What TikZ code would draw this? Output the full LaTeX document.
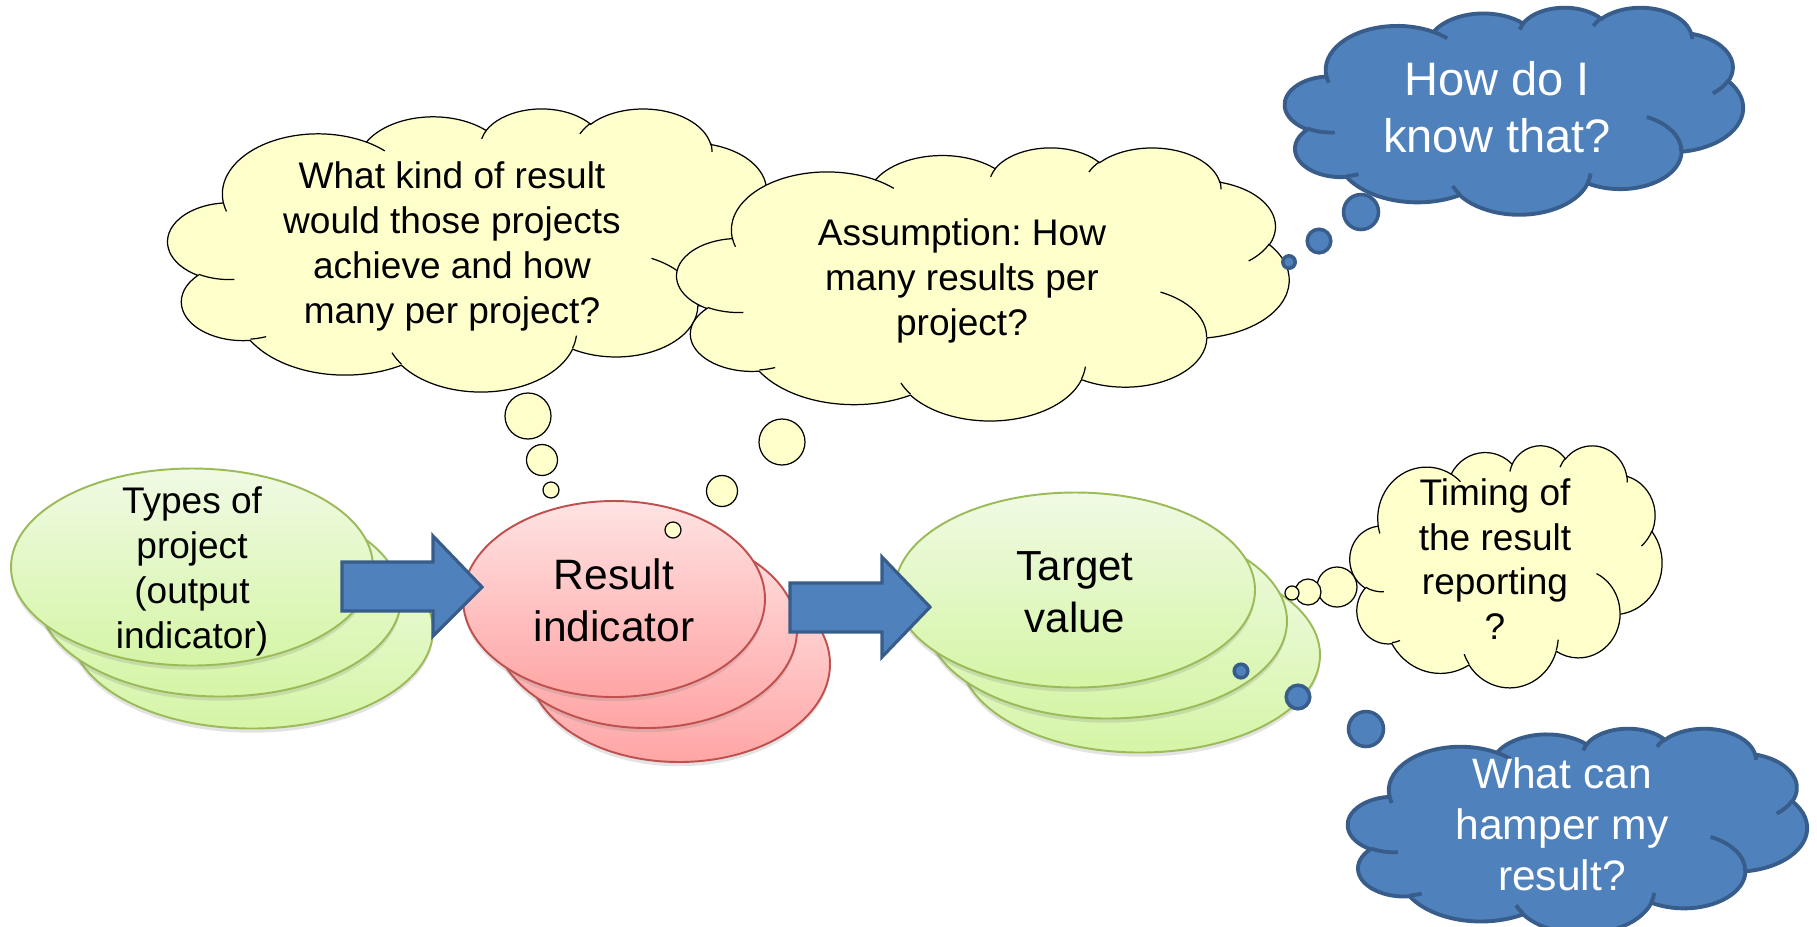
\documentclass[tikz,border=0pt]{standalone}
\usepackage{fontspec}
\setmainfont{Liberation Sans}
\usetikzlibrary{shadows}
\frenchspacing
\definecolor{cloudyellow}{HTML}{FFFFCC}
\definecolor{bluefill}{HTML}{4F81BD}
\definecolor{blueline}{HTML}{385D8A}
\definecolor{greenline}{HTML}{9BBB59}
\definecolor{greentop}{HTML}{F0FAE4}
\definecolor{greenbot}{HTML}{D5F5A6}
\definecolor{redline}{HTML}{C0504D}
\definecolor{redtop}{HTML}{FFE3E3}
\definecolor{redbot}{HTML}{FFA5A5}
\tikzset{
  pparc/.style n args={4}{insert path={arc[start angle={atan2((#1)*sin(#3),(#2)*cos(#3))},
     delta angle={mod(atan2((#1)*sin((#3)+(#4)),(#2)*cos((#3)+(#4)))-atan2((#1)*sin(#3),(#2)*cos(#3))+720,360)},
     x radius=#1, y radius=#2]}},
  yellowcloud/.style={fill=cloudyellow, draw=black, line width=0.35pt},
  yellowinner/.style={draw=black, line width=0.35pt},
  bluecloud/.style={fill=bluefill, draw=blueline, line width=1.1pt},
  blueinner/.style={draw=blueline, line width=1.1pt},
  ybub/.style={fill=cloudyellow, draw=black, line width=0.35pt},
  bbub/.style={fill=bluefill, draw=blueline, line width=1pt},
  softshadow/.style={drop shadow={shadow xshift=0pt, shadow yshift=-1.2pt, opacity=0.22}},
  greenell/.style={top color=greentop, bottom color=greenbot, draw=greenline, line width=0.55pt, softshadow},
  redell/.style={top color=redtop, bottom color=redbot, draw=redline, line width=0.55pt, softshadow},
  blockarrow/.style={fill=bluefill, draw=blueline, line width=0.9pt},
  txt/.style={inner sep=0pt, align=center, text=black},
  wtxt/.style={inner sep=0pt, align=center, text=white},
}
% PowerPoint-like cloud: #1,#2 top-left corner, #3 width, #4 height (px), #5 outline style, #6 inner-arc style
\newcommand\pptcloud[6]{%
  \begin{scope}[shift={(#1,#2)}, x={(#3*0.01cm,0cm)}, y={(0cm,-#4*0.01cm)}]
    \path[#5] (0.090278,0.332639)
      [pparc={0.156319}{0.212731}{-190.48748}{123.78053}]
      [pparc={0.123449}{0.168218}{-144.10238}{89.94523}]
      [pparc={0.101042}{0.137616}{-145.80792}{99.72302}]
      [pparc={0.112431}{0.152662}{-130.98607}{117.24173}]
      [pparc={0.123449}{0.168356}{-78.70888}{109.02692}]
      [pparc={0.156829}{0.213426}{-46.26725}{130.269}]
      [pparc={0.133912}{0.182106}{0.62502}{114.03333}]
      [pparc={0.156296}{0.213310}{22.4516}{115.17255}]
      [pparc={0.178704}{0.244051}{66.24263}{75.71102}]
      [pparc={0.100926}{0.136991}{-274.94208}{146.73557}]
      [pparc={0.100579}{0.137616}{-246.8285}{152.51885}]
      -- cycle;
    \path[#6]
      (0.108634,0.605949) [pparc={0.100579}{0.137616}{86.742}{26.4295}]
      (0.160370,0.807847) [pparc={0.100926}{0.136991}{73.6105}{11.4475}]
      (0.381435,0.904861) [pparc={0.156296}{0.213310}{137.6242}{14.0811}]
      (0.667292,0.804421) [pparc={0.156296}{0.213310}{6.4533}{15.9984}]
      (0.790023,0.531343) [pparc={0.133912}{0.182106}{-70.2924}{70.9174}]
      (0.967546,0.355417) [pparc={0.123449}{0.168356}{30.318}{27.7515}]
      (0.887130,0.125602) [pparc={0.112431}{0.152662}{-13.7443}{14.8589}]
      (0.673102,0.091481) [pparc={0.112431}{0.152662}{-149.1815}{18.1954}]
      (0.512523,0.109259) [pparc={0.101042}{0.137616}{-163.4943}{17.6864}]
      (0.324074,0.120185) [pparc={0.156319}{0.212731}{-66.7070}{12.3194}]
      (0.095532,0.365486) [pparc={0.156319}{0.212731}{-202.35}{11.86}];
  \end{scope}}
\begin{document}
\begin{tikzpicture}[x=0.01cm, y=-0.01cm]
\useasboundingbox (0,0) rectangle (1817,926);

% upper yellow clouds
\pptcloud{168}{108}{612}{283}{yellowcloud}{yellowinner}
\pptcloud{677}{147}{612}{273}{yellowcloud}{yellowinner}

% stacked ellipses: types of project
\path[greenell] (252,630) ellipse[x radius=181, y radius=98.5];
\path[greenell] (220,598) ellipse[x radius=181, y radius=98.5];
\path[greenell] (192,567) ellipse[x radius=181, y radius=98.5];
% result indicator
\path[redell] (679,664) ellipse[x radius=151, y radius=98];
\path[redell] (646,630) ellipse[x radius=151, y radius=98];
\path[redell] (614,599) ellipse[x radius=151, y radius=98];
% target value
\path[greenell] (1140,655) ellipse[x radius=180, y radius=97.5];
\path[greenell] (1107,621) ellipse[x radius=180, y radius=97.5];
\path[greenell] (1075,590) ellipse[x radius=180, y radius=97.5];

% block arrows
\path[blockarrow] (342,562) -- (433,562) -- (433,536) -- (482,587) -- (433,636) -- (433,611) -- (342,611) -- cycle;
\path[blockarrow] (790,583) -- (882,583) -- (882,557) -- (930,607) -- (882,657) -- (882,632) -- (790,632) -- cycle;

% yellow thought bubbles
\path[ybub] (528,416) circle[radius=23];
\path[ybub] (542,460) circle[radius=15.5];
\path[ybub] (551,490) circle[radius=8];
\path[ybub] (782,442) circle[radius=23];
\path[ybub] (722,491) circle[radius=15.5];
\path[ybub] (673,530) circle[radius=8];

% timing cloud
\pptcloud{1350}{445}{312}{242}{yellowcloud}{yellowinner}
\path[ybub] (1337,587) circle[radius=20];
\path[ybub] (1308,592) circle[radius=13];
\path[ybub] (1292,593) circle[radius=7];

% blue clouds
\pptcloud{1285}{7}{458}{207}{bluecloud}{blueinner}
\path[bbub] (1361,212) circle[radius=17.5];
\path[bbub] (1319,241) circle[radius=11.8];
\path[bbub] (1289,262) circle[radius=6.2];

\pptcloud{1348}{728}{459}{205}{bluecloud}{blueinner}
\path[bbub] (1241,671) circle[radius=6.8];
\path[bbub] (1298,697) circle[radius=11.8];
\path[bbub] (1366,729) circle[radius=17.5];

% texts
\node[txt, font=\fontsize{10.53}{12.8}\selectfont] (tp) at (192,571) {Types of\\project\\(output\\indicator)};
\node[txt, font=\fontsize{12.09}{14.8}\selectfont] (ri) at (614,600) {Result\\indicator};
\node[txt, font=\fontsize{11.95}{14.8}\selectfont] (tv) at (1075,592) {Target\\value};
\node[txt, font=\fontsize{10.53}{12.8}\selectfont] (qa) at (452,246) {What kind of result\\would those projects\\achieve and how\\many per project?};
\node[txt, font=\fontsize{10.53}{12.8}\selectfont] (qb) at (962,281) {Assumption: How\\many results per\\project?};
\node[txt, font=\fontsize{10.53}{12.7}\selectfont] (qe) at (1495,559) {Timing of\\the result\\reporting\\?};
\node[wtxt, font=\fontsize{13.37}{16.1}\selectfont] (qc) at (1497,107) {How do I\\know that?};
\node[wtxt, font=\fontsize{12.1}{14.5}\selectfont] (qd) at (1562,824) {What can\\hamper my\\result?};
\end{tikzpicture}
\end{document}
